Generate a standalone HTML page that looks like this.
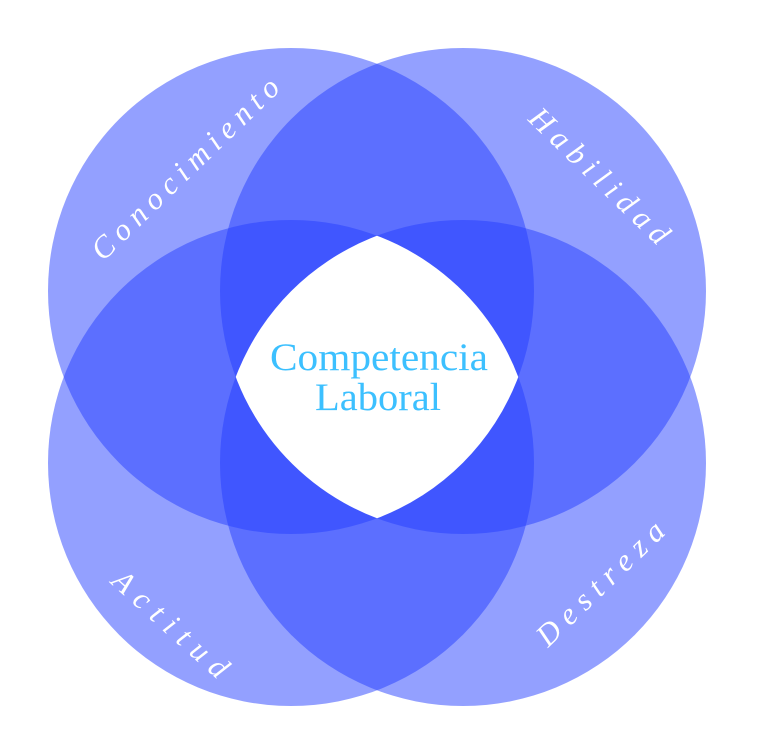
<!DOCTYPE html>
<html><head><meta charset="utf-8"><style>html,body{margin:0;padding:0;background:#fff}svg{display:block}</style></head>
<body>
<svg width="760" height="741" viewBox="0 0 760 741" xmlns="http://www.w3.org/2000/svg">
<defs>
<clipPath id="c1"><circle cx="291" cy="291" r="243"/></clipPath>
<clipPath id="c2" clip-path="url(#c1)"><circle cx="463" cy="291" r="243"/></clipPath>
<clipPath id="c3" clip-path="url(#c2)"><circle cx="291" cy="463" r="243"/></clipPath>
</defs>
<g fill="rgb(35,61,255)" fill-opacity="0.49">
<circle cx="291" cy="291" r="243"/>
<circle cx="463" cy="291" r="243"/>
<circle cx="291" cy="463" r="243"/>
<circle cx="463" cy="463" r="243"/>
</g>
<circle cx="463" cy="463" r="243" fill="#fff" clip-path="url(#c3)"/>
<g font-family="Liberation Serif, serif" fill="#fff" font-style="italic" font-size="31">
<text transform="translate(103,262) rotate(-44)" textLength="248" lengthAdjust="spacing">Conocimiento</text>
<text transform="translate(527,120) rotate(44)" textLength="182" lengthAdjust="spacing">Habilidad</text>
<text transform="translate(110,583) rotate(42)" textLength="145" lengthAdjust="spacing">Actitud</text>
<text transform="translate(548,648) rotate(-44)" textLength="165" lengthAdjust="spacing">Destreza</text>
</g>
<g font-family="Liberation Serif, serif" fill="#3cc0ff" font-size="39">
<text x="270" y="370" textLength="218" lengthAdjust="spacingAndGlyphs">Competencia</text>
<text x="315" y="410" textLength="126" lengthAdjust="spacingAndGlyphs">Laboral</text>
</g>
</svg>
</body></html>
